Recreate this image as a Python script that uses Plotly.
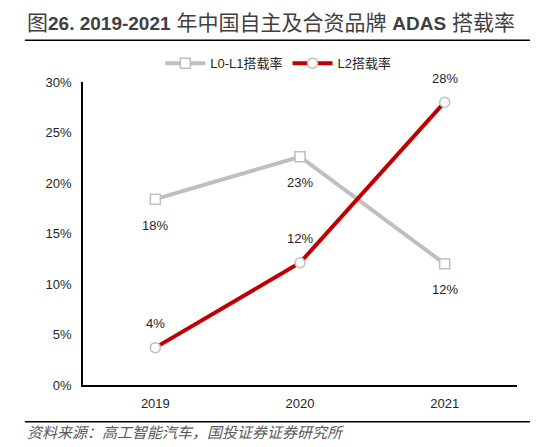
import plotly.graph_objects as go

# Datos del gráfico
anios = ['2019', '2020', '2021']
l0_l1 = [18.4, 22.6, 12.0]
l2 = [3.7, 12.1, 28.0]
etiquetas_l0_l1 = ['18%', '23%', '12%']
etiquetas_l2 = ['4%', '12%', '28%']
ticks_y = [0, 5, 10, 15, 20, 25, 30]

# título: caracteres chinos algo más grandes, parte latina en negrita
titulo = ('图<span style="font-size:19px"><b>26. 2019-2021</b></span> 年中国自主及合资品牌 '
          '<span style="font-size:19px"><b>ADAS</b></span> 搭载率')
fuente = '资料来源：高工智能汽车，国投证券证券研究所'

FONT = 'Arial, Liberation Sans, Noto Sans CJK SC'
GRIS = '#BFBFBF'
ROJO = '#C00000'

fig = go.Figure()

fig.add_trace(go.Scatter(
    x=anios, y=l0_l1, name='L0-L1搭载率',
    mode='lines+markers',
    line=dict(color=GRIS, width=4),
    marker=dict(symbol='square', size=10, color='white',
                line=dict(color=GRIS, width=1.5)),
))
fig.add_trace(go.Scatter(
    x=anios, y=l2, name='L2搭载率',
    mode='lines+markers',
    line=dict(color=ROJO, width=4),
    marker=dict(symbol='circle', size=10, color='white',
                line=dict(color=GRIS, width=1.5)),
))

# etiquetas de datos (x como índice de categoría)
anotaciones = []
for i, (v, t) in enumerate(zip(l0_l1, etiquetas_l0_l1)):
    anotaciones.append(dict(x=i, y=v, text=t, showarrow=False, yshift=-26,
                            font=dict(size=13, color='#262626', family=FONT)))
for i, (v, t) in enumerate(zip(l2, etiquetas_l2)):
    anotaciones.append(dict(x=i, y=v, text=t, showarrow=False, yshift=24,
                            font=dict(size=13, color='#262626', family=FONT)))

# titulo y fuente
anotaciones.append(dict(xref='paper', yref='paper', x=-0.134, y=1.197, xanchor='left',
                        yanchor='middle', showarrow=False, text=titulo,
                        font=dict(size=21, color='#404040', family=FONT)))
anotaciones.append(dict(xref='paper', yref='paper', x=-0.134, y=-0.158, xanchor='left',
                        yanchor='middle', showarrow=False, text='<i>' + fuente + '</i>',
                        font=dict(size=15, color='#595959', family=FONT)))

# la página deja 8px de margen, por eso la figura es 8px menor
fig.update_layout(
    width=546, height=439,
    margin=dict(l=75, r=37, t=74, b=62),
    plot_bgcolor='white', paper_bgcolor='white',
    font=dict(family=FONT, size=13, color='#262626'),
    showlegend=True,
    legend=dict(orientation='h', x=0.45, xanchor='center', y=1.062, yanchor='middle',
                font=dict(size=13, color='#262626'), itemwidth=40,
                bgcolor='rgba(0,0,0,0)'),
    annotations=anotaciones,
    shapes=[
        dict(type='line', xref='paper', yref='paper', x0=-0.134, x1=1.03,
             y0=1.1375, y1=1.1375, line=dict(color='black', width=1.5)),
        dict(type='line', xref='paper', yref='paper', x0=-0.134, x1=1.03,
             y0=-0.121, y1=-0.121, line=dict(color='black', width=1.5)),
    ],
)

fig.update_xaxes(type='category', range=[-0.5, 2.5], showline=True, linecolor='black',
                 linewidth=1.5, showgrid=False, ticks='', tickfont=dict(size=13),
                 ticklabelstandoff=6, fixedrange=True)
fig.update_yaxes(range=[0, 30], tickvals=ticks_y, ticktext=[f'{t}%' for t in ticks_y],
                 showline=True, linecolor='black', linewidth=1.5, showgrid=False,
                 zeroline=False, ticks='', tickfont=dict(size=13),
                 ticklabelstandoff=7, fixedrange=True)

fig.write_html('out.html')
